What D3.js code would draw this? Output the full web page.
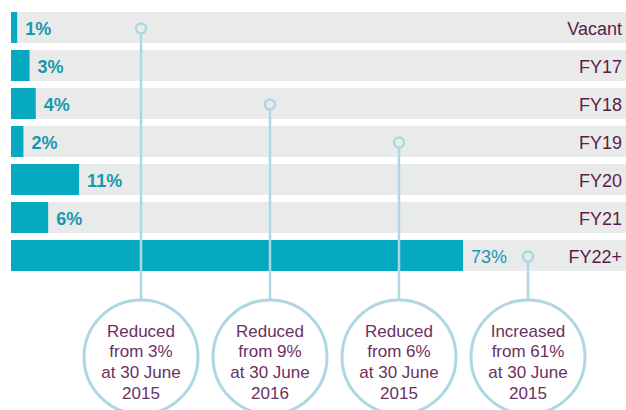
<!DOCTYPE html>
<html>
<head>
<meta charset="utf-8">
<script src="https://cdn.jsdelivr.net/npm/d3@7"></script>
<style>
  body { margin: 0; background: #fff; }
  svg { display: block; font-family: "Liberation Sans", Arial, sans-serif; }
</style>
</head>
<body>
<script>
// lease expiry profile
const categories = ['Vacant', 'FY17', 'FY18', 'FY19', 'FY20', 'FY21', 'FY22+'];
const values = [1, 3, 4, 2, 11, 6, 73];

// callouts, the row each one points at and its text
const calloutRows = ['Vacant', 'FY18', 'FY19', 'FY22+'];
const calloutText = [
    ['Reduced', 'from 3%', 'at 30 June', '2015'],
    ['Reduced', 'from 9%', 'at 30 June', '2016'],
    ['Reduced', 'from 6%', 'at 30 June', '2015'],
    ['Increased', 'from 61%', 'at 30 June', '2015']
];

const W = 626, H = 410;
const TEAL = '#06a9bf', GREY = '#e9ebea', LIGHT = '#acd7e3';

const svg = d3.select('body').append('svg')
    .attr('width', W)
    .attr('height', H);

const y = d3.scaleBand()
    .domain(categories)
    .range([5, 278])
    .padding(7 / 38);

const x = d3.scaleLinear()
    .domain([0, 73])
    .range([11, 463]);

const cx = d3.scalePoint()
    .domain(d3.range(calloutRows.length))
    .range([141, 528]);

const rows = svg.selectAll('g.row')
    .data(categories.map((c, i) => ({ cat: c, val: values[i] })))
    .join('g')
    .attr('class', 'row');

rows.append('rect')
    .attr('x', 11)
    .attr('y', d => y(d.cat))
    .attr('width', W - 11)
    .attr('height', y.bandwidth())
    .attr('fill', GREY);

rows.append('rect')
    .attr('x', x(0))
    .attr('y', d => y(d.cat))
    .attr('width', d => x(d.val) - x(0))
    .attr('height', y.bandwidth())
    .attr('fill', TEAL);

rows.append('text')
    .attr('x', d => x(d.val) + 8)
    .attr('y', d => y(d.cat) + y.bandwidth() / 2 + 7)
    .attr('font-size', 18)
    .attr('font-weight', d => d.val > 50 ? 'normal' : 'bold')
    .attr('fill', '#1798b0')
    .text(d => d.val + '%');

rows.append('text')
    .attr('x', 622)
    .attr('y', d => y(d.cat) + y.bandwidth() / 2 + 7)
    .attr('text-anchor', 'end')
    .attr('font-size', 18)
    .attr('fill', '#5a1c4b')
    .text(d => d.cat);

/* callouts */

const R = 57, CY = 357, DOT = 5;

const callouts = svg.selectAll('g.callout')
    .data(calloutRows.map((r, i) => ({ row: r, lines: calloutText[i], i })))
    .join('g')
    .attr('class', 'callout');

callouts.append('line')
    .attr('x1', d => cx(d.i))
    .attr('x2', d => cx(d.i))
    .attr('y1', d => y(d.row) + y.bandwidth() / 2 + 1 + DOT)
    .attr('y2', CY - R)
    .attr('stroke', LIGHT)
    .attr('stroke-width', 2.5);

callouts.append('circle')
    .attr('cx', d => cx(d.i))
    .attr('cy', d => y(d.row) + y.bandwidth() / 2 + 1)
    .attr('r', DOT)
    .attr('fill', 'none')
    .attr('stroke', LIGHT)
    .attr('stroke-width', 2.5);

callouts.append('circle')
    .attr('cx', d => cx(d.i))
    .attr('cy', CY)
    .attr('r', R)
    .attr('fill', '#fff')
    .attr('stroke', LIGHT)
    .attr('stroke-width', 3);

callouts.append('text')
    .attr('text-anchor', 'middle')
    .attr('font-size', 17)
    .attr('fill', '#6c3061')
    .selectAll('tspan')
    .data(d => d.lines.map(t => ({ t, x: cx(d.i) })))
    .join('tspan')
    .attr('x', d => d.x)
    .attr('y', (d, j) => CY - 20.5 + j * 20.8)
    .text(d => d.t);
</script>
</body>
</html>
